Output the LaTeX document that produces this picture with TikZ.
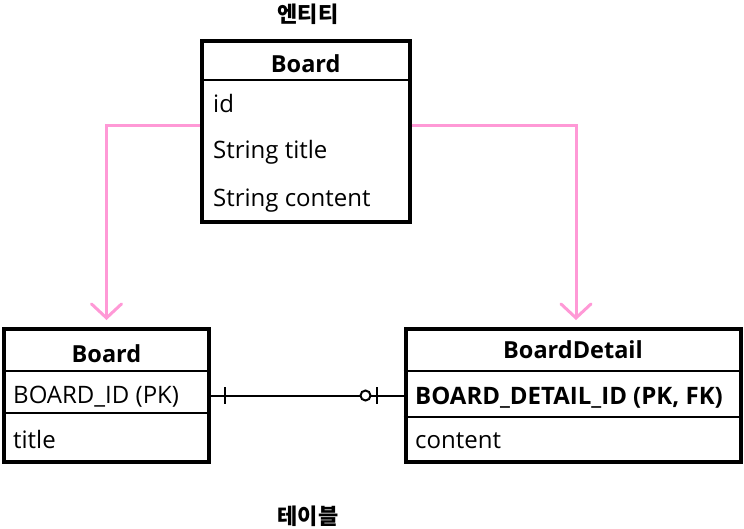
\documentclass[tikz,border=0pt]{standalone}
\usepackage{fontspec}
\setmainfont{Open Sans}
\newfontfamily\krfont{Noto Sans CJK KR}
\usetikzlibrary{arrows.meta}
\definecolor{mappink}{RGB}{255,153,214}
\begin{document}
\begin{tikzpicture}[x=1pt,y=-1pt,
    tbl/.style={draw,line width=4pt,inner sep=0pt},
    divider/.style={line width=2pt},
    row/.style={anchor=base west,inner sep=0pt,font=\fontsize{24}{28}\selectfont},
    head/.style={anchor=base,inner sep=0pt,font=\fontsize{23.5}{28}\selectfont\bfseries},
    krlabel/.style={inner sep=0pt,font=\krfont\fontsize{22}{26}\selectfont\bfseries},
    maparrow/.style={mappink,line width=3pt,-{Straight Barb[length=14pt,width=30pt,line cap=round]}},
    erline/.style={line width=2pt}]
  \useasboundingbox (0,0) rectangle (744,528);
  \node[tbl,minimum width=207.5pt,minimum height=181.5pt] (ent) at (305.75,131.25) {};
  \node[tbl,minimum width=205pt,minimum height=133pt] (board) at (106.5,395.5) {};
  \node[tbl,minimum width=335pt,minimum height=133pt] (detail) at (573,395.5) {};
  \draw[divider] ([yshift=-41.5pt]ent.north west) -- ([yshift=-41.5pt]ent.north east);
  \draw[divider] ([yshift=-43.5pt]board.north west) -- ([yshift=-43.5pt]board.north east);
  \draw[divider] ([yshift=-86pt]board.north west) -- ([yshift=-86pt]board.north east);
  \draw[divider] ([yshift=-43.5pt]detail.north west) -- ([yshift=-43.5pt]detail.north east);
  \draw[divider] ([yshift=-90pt]detail.north west) -- ([yshift=-90pt]detail.north east);
  \node[krlabel] (entlabel) at (308,14) {엔티티};
  \node[krlabel] (tbllabel) at (308,516) {테이블};
  \node[head] (entname) at (305.75,72) {Board};
  \node[row] (entid) at (213,112) {id};
  \node[row] (enttitle) at (213,158) {String title};
  \node[row] (entcontent) at (213,206) {String content};
  \node[head] (boardname) at (106.5,362) {Board};
  \node[row] (boardid) at (13,403) {BOARD\_ID (PK)};
  \node[row] (boardtitle) at (13,448) {title};
  \node[head] (detailname) at (573,358) {BoardDetail};
  \node[row,font=\fontsize{24}{28}\selectfont\bfseries] (detailid) at (415,404) {BOARD\_DETAIL\_ID (PK, FK)};
  \node[row] (detailcontent) at (415,448) {content};
  \draw[maparrow] ([yshift=6pt]ent.west) -| ([yshift=7pt]board.north);
  \draw[maparrow] ([yshift=6pt]ent.east) -| ([xshift=3pt,yshift=7pt]detail.north);
  \draw[erline] (board.east) -- (detail.west);
  \draw[erline] ([xshift=14pt]board.east) +(0,-8.5) -- +(0,8.5);
  \draw[erline,fill=white] ([xshift=-38pt]detail.west) circle (5pt);
  \draw[erline] ([xshift=-26.5pt]detail.west) +(0,-8.5) -- +(0,8.5);
\end{tikzpicture}
\end{document}
